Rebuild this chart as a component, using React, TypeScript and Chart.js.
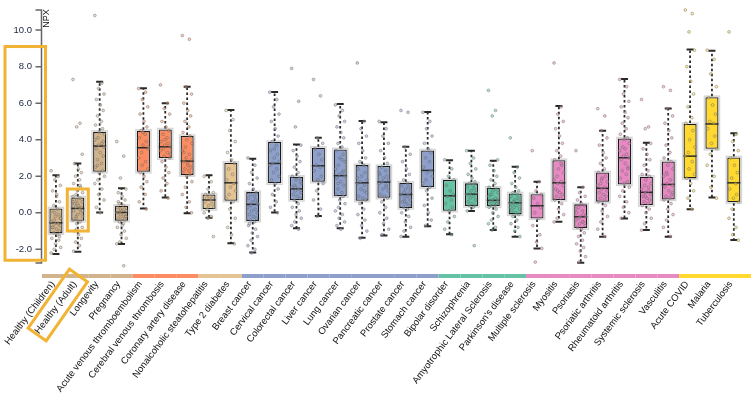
import React, { useEffect, useRef } from "react";
import { Chart, registerables } from "chart.js";

Chart.register(...registerables);

const categories = [
  "Healthy (Children)", "Healthy (Adult)", "Longevity", "Pregnancy",
  "Acute venous thromboembolism", "Cerebral venous thrombosis", "Coronary artery disease",
  "Nonalcoholic steatohepatitis", "Type 2 diabetes",
  "Breast cancer", "Cervical cancer", "Colorectal cancer", "Liver cancer", "Lung cancer",
  "Ovarian cancer", "Pancreatic cancer", "Prostate cancer", "Stomach cancer",
  "Bipolar disorder", "Schizophrenia", "Amyotrophic Lateral Sclerosis", "Parkinson's disease",
  "Multiple sclerosis", "Myositis", "Psoriasis", "Psoriatic arthritis", "Rheumatoid arthritis",
  "Systemic sclerosis", "Vasculitis",
  "Acute COVID", "Malaria", "Tuberculosis",
];

const groupOf = [0, 0, 0, 0, 1, 1, 1, 2, 2, 3, 3, 3, 3, 3, 3, 3, 3, 3, 4, 4, 4, 4, 5, 5, 5, 5, 5, 5, 5, 6, 6, 6];
const groupColors = ["#D2B48C", "#FC8D62", "#E5C494", "#8DA0CB", "#66C2A5", "#E78AC3", "#FFD92F"];

const whiskerLow = [-2.26, -2.13, 0.02, -1.71, 0.24, 0.84, -0.03, -0.27, -1.67, -2.17, 0.02, -0.85, -0.18, -0.85, -1.37, -1.24, -1.31, -0.74, -1.18, 0.09, -0.95, -1.31, -1.95, -0.49, -2.74, -1.31, -0.31, -0.95, -1.31, 0.19, 0.84, -1.49];
const q1 = [-1.13, -0.44, 2.24, -0.44, 2.24, 2.98, 2.06, 0.2, 0.66, -0.45, 1.61, 0.7, 1.7, 0.91, 0.66, 0.82, 0.26, 1.39, 0.11, 0.37, 0.35, -0.09, -0.31, 0.7, -0.85, 0.6, 1.55, 0.42, 0.73, 1.88, 3.5, 0.57];
const median = [-0.55, 0.24, 3.65, 0.02, 3.56, 3.61, 2.83, 0.7, 1.64, 0.46, 2.7, 1.31, 2.57, 2.03, 1.64, 1.68, 1.0, 2.32, 0.93, 1.02, 0.68, 0.55, 0.38, 1.64, -0.22, 1.34, 3.01, 1.12, 1.55, 3.1, 4.86, 1.64];
const q3 = [0.24, 0.84, 4.43, 0.38, 4.49, 4.56, 4.2, 1.0, 2.74, 1.13, 3.87, 1.97, 3.56, 3.47, 2.61, 2.56, 1.64, 3.41, 1.79, 1.61, 1.37, 1.06, 1.02, 2.88, 0.46, 2.21, 4.07, 1.97, 2.81, 4.86, 6.33, 3.03];
const whiskerHigh = [2.06, 2.7, 7.17, 1.34, 6.81, 5.99, 6.9, 2.06, 5.62, 2.96, 6.61, 3.74, 4.1, 5.95, 5.02, 4.96, 3.61, 5.51, 2.88, 3.39, 2.85, 2.52, 1.7, 5.84, 1.39, 4.49, 7.32, 3.83, 5.71, 8.94, 8.87, 4.35];

const yTicks = [-2, 0, 2, 4, 6, 8, 10];
const yMin = -2.75;
const yMax = 11.1;

const ptsHealthyChildren = [2.3, 2.0, 1.8, 1.5, 1.2, 0.9, 0.6, 0.4, 0.2, 0.1, -0.1, -0.2, -0.3, -0.4, -0.5, -0.6, -0.6, -0.7, -0.8, -0.9, -1.0, -1.1, -1.2, -1.4, -1.5, -1.7, -1.9, -2.0, -2.2, -3.3, 0.0, -0.3, -0.8, 1.0, -1.3];
const ptsHealthyAdult = [7.3, 4.9, 4.7, 3.2, 2.7, 2.4, 2.2, 2.0, 1.8, 1.6, 1.4, 1.2, 1.1, 1.0, 0.9, 0.8, 0.7, 0.6, 0.5, 0.4, 0.3, 0.3, 0.2, 0.1, 0.0, -0.1, -0.2, -0.3, -0.4, -0.5, -0.6, -0.8, -1.0, -1.2, -1.4, -1.6, -1.8, -2.1, -3.2, 0.5, 0.1, -0.2, 0.6, 1.5, -0.9];
const ptsLongevity = [10.8, 7.1, 6.8, 6.5, 6.2, 5.9, 5.6, 5.3, 5.0, 4.8, 4.6, 4.4, 4.3, 4.1, 4.0, 3.8, 3.7, 3.6, 3.5, 3.3, 3.1, 2.9, 2.7, 2.5, 2.3, 2.2, 2.0, 1.8, 1.6, 1.3, 1.0, 0.7, 0.3, 0.0, 3.9, 2.6];
const ptsPregnancy = [3.9, 3.1, 1.9, 1.3, 1.1, 0.9, 0.7, 0.5, 0.4, 0.3, 0.2, 0.1, 0.1, 0.0, 0.0, -0.1, -0.1, -0.2, -0.3, -0.3, -0.4, -0.5, -0.6, -0.8, -1.0, -1.2, -1.4, -1.6, -1.7, -2.9, 0.2, -0.2, 0.6, -0.7];
const ptsAVT = [6.8, 6.6, 6.2, 5.8, 5.4, 5.0, 4.7, 4.5, 4.3, 4.1, 3.9, 3.7, 3.5, 3.3, 3.0, 2.8, 2.6, 2.4, 2.2, 2.0, 1.7, 1.4, 1.0, 0.6, 0.2, 4.4, 3.6];
const ptsCVT = [7.0, 6.0, 5.7, 5.4, 5.0, 4.7, 4.5, 4.3, 4.1, 3.9, 3.8, 3.7, 3.6, 3.5, 3.4, 3.3, 3.1, 3.0, 2.8, 2.5, 2.2, 1.9, 1.6, 1.2, 0.8, 4.0, 3.2];
const ptsCAD = [9.7, 9.5, 6.9, 6.5, 6.0, 5.6, 5.3, 5.0, 4.7, 4.4, 4.2, 4.0, 3.8, 3.6, 3.4, 3.2, 3.0, 2.9, 2.8, 2.7, 2.5, 2.4, 2.3, 2.2, 2.1, 2.0, 1.7, 1.4, 1.0, 0.6, 0.3, 0.0, 3.3, 2.6];
const ptsNASH = [2.0, 1.7, 1.3, 1.1, 1.0, 0.9, 0.8, 0.8, 0.7, 0.6, 0.5, 0.4, 0.3, 0.2, 0.0, -0.2, -0.3, -1.3];
const ptsT2D = [5.6, 5.1, 4.5, 3.9, 3.3, 2.9, 2.7, 2.4, 2.1, 1.8, 1.6, 1.4, 1.2, 1.0, 0.8, 0.6, 0.2, -0.3, -0.8, -1.2, -1.7];
const ptsBreast = [3.0, 2.6, 2.2, 1.9, 1.6, 1.3, 1.1, 1.0, 0.9, 0.8, 0.7, 0.6, 0.5, 0.4, 0.3, 0.2, 0.1, 0.0, -0.1, -0.2, -0.3, -0.4, -0.5, -0.7, -0.9, -1.1, -1.3, -1.5, -1.8, -2.0, -2.2, 0.5, -0.6];
const ptsCervical = [6.6, 6.2, 5.8, 5.4, 5.0, 4.6, 4.2, 3.9, 3.7, 3.4, 3.2, 3.0, 2.8, 2.7, 2.6, 2.4, 2.2, 2.0, 1.8, 1.6, 1.3, 1.0, 0.6, 0.3, 0.0, 3.5];
const ptsColorectal = [7.9, 6.1, 4.7, 3.7, 3.4, 3.1, 2.8, 2.5, 2.2, 2.0, 1.9, 1.8, 1.6, 1.5, 1.4, 1.3, 1.2, 1.1, 1.0, 0.9, 0.8, 0.7, 0.5, 0.3, 0.1, -0.1, -0.3, -0.5, -0.7, -0.9, 1.4, 1.7];
const ptsLiver = [7.3, 6.4, 4.1, 3.8, 3.5, 3.2, 2.9, 2.6, 2.5, 2.3, 2.0, 1.8, 1.6, 1.2, 0.7, 0.2, -0.2];
const ptsLung = [5.9, 5.6, 5.3, 5.0, 4.7, 4.4, 4.1, 3.8, 3.6, 3.4, 3.2, 3.0, 2.8, 2.6, 2.4, 2.2, 2.1, 2.0, 1.9, 1.7, 1.5, 1.3, 1.1, 1.0, 0.9, 0.7, 0.5, 0.3, 0.1, -0.1, -0.3, -0.5, -0.7, -0.9, 2.3, 1.6, 2.9];
const ptsOvarian = [8.2, 5.0, 4.6, 4.2, 3.8, 3.4, 3.0, 2.8, 2.6, 2.4, 2.2, 2.0, 1.8, 1.7, 1.6, 1.5, 1.3, 1.1, 0.9, 0.8, 0.7, 0.5, 0.2, -0.1, -0.4, -0.7, -1.0, -1.4, 1.9, 1.2];
const ptsPancreatic = [5.0, 4.6, 4.2, 3.8, 3.4, 3.0, 2.7, 2.5, 2.3, 2.1, 2.0, 1.9, 1.8, 1.7, 1.6, 1.5, 1.3, 1.2, 1.0, 0.9, 0.8, 0.6, 0.3, 0.0, -0.3, -0.6, -0.9, -1.2, 2.2, 1.4];
const ptsProstate = [5.6, 5.5, 3.6, 3.2, 2.8, 2.4, 2.1, 1.8, 1.6, 1.5, 1.4, 1.3, 1.2, 1.1, 1.0, 0.9, 0.8, 0.7, 0.6, 0.5, 0.4, 0.3, 0.2, 0.0, -0.2, -0.5, -0.8, -1.0, -1.3, 1.0, 0.6];
const ptsStomach = [5.5, 5.0, 4.6, 4.2, 3.8, 3.5, 3.3, 3.0, 2.8, 2.5, 2.3, 2.2, 2.0, 1.8, 1.6, 1.4, 1.2, 0.8, 0.4, 0.0, -0.4, -0.7];
const ptsBipolar = [2.9, 2.4, 2.0, 1.8, 1.5, 1.2, 1.0, 0.9, 0.7, 0.5, 0.3, 0.1, -0.2, -0.5, -0.9, -1.2];
const ptsSchizophrenia = [3.4, 3.0, 2.7, 2.4, 2.1, 1.9, 1.7, 1.6, 1.5, 1.4, 1.3, 1.2, 1.1, 1.0, 1.0, 0.9, 0.8, 0.7, 0.6, 0.5, 0.4, 0.4, 0.3, 0.1, -1.8];
const ptsALS = [6.7, 5.6, 5.3, 2.9, 2.6, 2.3, 2.0, 1.8, 1.6, 1.4, 1.3, 1.2, 1.1, 1.0, 0.9, 0.8, 0.7, 0.7, 0.6, 0.5, 0.5, 0.4, 0.4, 0.3, 0.2, 0.0, -0.2, -0.4, -0.6, -0.8, -0.95, 0.6, 1.0];
const ptsParkinson = [4.1, 2.5, 2.2, 1.9, 1.6, 1.4, 1.2, 1.1, 1.0, 0.9, 0.8, 0.7, 0.6, 0.5, 0.5, 0.4, 0.3, 0.2, 0.1, 0.0, -0.1, -0.2, -0.4, -0.6, -0.8, -1.0, -1.3, 0.6, 0.3];
const ptsMS = [3.4, 1.7, 1.2, 1.0, 0.8, 0.5, 0.3, 0.0, -0.3, -0.7, -1.2, -1.6, -1.95, -2.7];
const ptsMyositis = [8.2, 5.8, 5.4, 5.0, 4.6, 4.2, 3.8, 3.4, 3.1, 2.9, 2.6, 2.4, 2.2, 2.0, 1.8, 1.7, 1.6, 1.5, 1.3, 1.1, 1.0, 0.9, 0.8, 0.7, 0.5, 0.2, -0.1, -0.3, -0.5, 2.7, 1.2];
const ptsPsoriasis = [3.4, 1.4, 1.1, 0.9, 0.7, 0.5, 0.4, 0.3, 0.1, 0.0, -0.1, -0.2, -0.2, -0.3, -0.4, -0.5, -0.6, -0.7, -0.8, -0.9, -1.1, -1.3, -1.5, -1.7, -1.9, -2.1, -2.4, -2.7, 0.2, -0.5];
const ptsPsA = [5.7, 5.3, 4.5, 4.1, 3.7, 3.3, 3.0, 2.7, 2.4, 2.2, 2.0, 1.9, 1.7, 1.6, 1.5, 1.4, 1.3, 1.2, 1.1, 1.0, 0.9, 0.8, 0.7, 0.6, 0.4, 0.1, -0.2, -0.5, -0.9, -1.3, 1.8];
const ptsRA = [7.3, 6.9, 6.5, 6.1, 5.8, 5.5, 5.2, 4.9, 4.6, 4.3, 4.1, 4.0, 3.8, 3.6, 3.4, 3.2, 3.1, 3.0, 2.9, 2.7, 2.5, 2.3, 2.1, 1.9, 1.7, 1.6, 1.4, 1.2, 0.9, 0.6, 0.3, 0.0, -0.3, 3.5, 2.4];
const ptsSSc = [6.2, 4.7, 4.6, 3.8, 3.5, 3.2, 2.9, 2.6, 2.3, 2.1, 2.0, 1.8, 1.6, 1.5, 1.3, 1.2, 1.1, 1.0, 0.9, 0.8, 0.7, 0.6, 0.5, 0.4, 0.2, 0.0, -0.3, -0.6, -0.95, 1.4, 0.9];
const ptsVasculitis = [6.9, 6.7, 5.7, 5.3, 4.9, 4.5, 4.1, 3.7, 3.3, 3.0, 2.8, 2.6, 2.4, 2.2, 2.0, 1.8, 1.6, 1.5, 1.4, 1.2, 1.0, 0.9, 0.8, 0.7, 0.5, 0.2, -0.1, -0.4, -0.8, -1.3, 2.1, 1.1];
const ptsCOVID = [11.1, 10.9, 9.9, 8.9, 8.0, 7.2, 6.5, 5.8, 5.2, 4.9, 4.5, 4.0, 3.6, 3.3, 3.1, 2.8, 2.4, 2.1, 1.9, 1.6, 1.2, 0.8, 0.2];
const ptsMalaria = [8.9, 8.4, 7.6, 6.9, 6.3, 5.9, 5.4, 5.0, 4.9, 4.6, 4.2, 3.8, 3.5, 3.2, 2.6, 2.0, 1.4, 0.8];
const ptsTB = [9.9, 4.3, 3.9, 3.4, 3.0, 2.6, 2.2, 1.9, 1.6, 1.3, 1.0, 0.8, 0.6, 0.2, -0.3, -0.8, -1.2, -1.5];

const pointLists = [
  ptsHealthyChildren, ptsHealthyAdult, ptsLongevity, ptsPregnancy, ptsAVT, ptsCVT, ptsCAD,
  ptsNASH, ptsT2D, ptsBreast, ptsCervical, ptsColorectal, ptsLiver, ptsLung, ptsOvarian,
  ptsPancreatic, ptsProstate, ptsStomach, ptsBipolar, ptsSchizophrenia, ptsALS, ptsParkinson,
  ptsMS, ptsMyositis, ptsPsoriasis, ptsPsA, ptsRA, ptsSSc, ptsVasculitis, ptsCOVID, ptsMalaria, ptsTB,
];

// horizontal jitter pattern (layout only, in category units)
const jitterPattern = [-0.22, 0.1, -0.05, 0.2, -0.15, 0.03, 0.16, -0.1, 0.08, -0.19, 0.13, -0.02, 0.22, -0.08];

const FONT = "'Liberation Sans', Arial, sans-serif";
const ANNOT = "#F2B233";

function rgba(hex: string, a: number) {
  const n = parseInt(hex.slice(1), 16);
  return `rgba(${(n >> 16) & 255},${(n >> 8) & 255},${n & 255},${a})`;
}

const extrasPlugin = {
  id: "boxExtras",
  beforeDatasetDraw(chart: any, args: any) {
    if (args.index !== 0) return;
    const ctx = chart.ctx;
    const meta = chart.getDatasetMeta(0);
    ctx.save();
    ctx.strokeStyle = "rgba(0,0,0,0.16)";
    ctx.lineWidth = 1.5;
    meta.data.forEach((bar: any) => {
      const p = bar.getProps(["x", "y", "base", "width"], true);
      const top = Math.min(p.y, p.base);
      ctx.strokeRect(p.x - p.width / 2 - 1, top - 1, p.width + 2, Math.abs(p.base - p.y) + 2);
    });
    ctx.restore();
  },
  afterDatasetDraw(chart: any, args: any) {
    if (args.index !== 0) return;
    const ctx = chart.ctx;
    const xs = chart.scales.x;
    const ys = chart.scales.y;
    const meta = chart.getDatasetMeta(0);
    ctx.save();
    categories.forEach((_, i) => {
      const x = xs.getPixelForValue(i);
      const w = meta.data[i].getProps(["width"], true).width;
      const yH = ys.getPixelForValue(whiskerHigh[i]);
      const yL = ys.getPixelForValue(whiskerLow[i]);
      const yQ3 = ys.getPixelForValue(q3[i]);
      const yQ1 = ys.getPixelForValue(q1[i]);
      ctx.strokeStyle = "#2a2a2a";
      ctx.lineWidth = 1.8;
      ctx.setLineDash([2.5, 2.5]);
      ctx.beginPath();
      ctx.moveTo(x, yQ3 - 1);
      ctx.lineTo(x, yH);
      ctx.moveTo(x, yQ1 + 1);
      ctx.lineTo(x, yL);
      ctx.stroke();
      ctx.setLineDash([]);
      ctx.lineWidth = 2;
      ctx.beginPath();
      ctx.moveTo(x - 3.5, yH);
      ctx.lineTo(x + 3.5, yH);
      ctx.moveTo(x - 3.5, yL);
      ctx.lineTo(x + 3.5, yL);
      ctx.stroke();
      const yM = ys.getPixelForValue(median[i]);
      ctx.lineWidth = 1.5;
      ctx.beginPath();
      ctx.moveTo(x - w / 2, yM);
      ctx.lineTo(x + w / 2, yM);
      ctx.stroke();
    });
    ctx.restore();
  },
  afterDraw(chart: any) {
    const ctx = chart.ctx;
    const xs = chart.scales.x;
    const ys = chart.scales.y;
    const area = chart.chartArea;
    const half = (xs.getPixelForValue(1) - xs.getPixelForValue(0)) / 2;
    ctx.save();
    // group colour band
    const bandY = area.bottom + 11;
    categories.forEach((_, i) => {
      const x = xs.getPixelForValue(i);
      ctx.fillStyle = groupColors[groupOf[i]];
      const left = i === 0 ? area.left - 3 : x - half;
      const right = i === categories.length - 1 ? chart.width : x + half;
      ctx.fillRect(left, bandY, right - left, 4);
    });
    // y axis line + ticks
    const ax = area.left - 3.5;
    const yTop = ys.getPixelForValue(yMax);
    const yBot = ys.getPixelForValue(yMin);
    ctx.strokeStyle = "#666";
    ctx.lineWidth = 1.5;
    ctx.beginPath();
    ctx.moveTo(ax - 6, yTop);
    ctx.lineTo(ax, yTop);
    ctx.lineTo(ax, yBot);
    ctx.lineTo(ax - 6, yBot);
    yTicks.forEach((t) => {
      const y = ys.getPixelForValue(t);
      ctx.moveTo(ax - 6, y);
      ctx.lineTo(ax, y);
    });
    ctx.stroke();
    // NPX label
    ctx.save();
    ctx.translate(ax + 5, yTop + 8.5);
    ctx.rotate(-Math.PI / 2);
    ctx.fillStyle = "#111";
    ctx.font = `9px ${FONT}`;
    ctx.textAlign = "center";
    ctx.textBaseline = "middle";
    ctx.fillText("NPX", 0, 0);
    ctx.restore();
    // annotations
    ctx.strokeStyle = ANNOT;
    ctx.lineWidth = 3;
    const rTop = ys.getPixelForValue(9.1);
    const rBot = ys.getPixelForValue(-2.6);
    ctx.strokeRect(5, rTop, ax + 4 - 5, rBot - rTop);
    const xa = xs.getPixelForValue(1);
    const hTop = ys.getPixelForValue(1.3);
    const hBot = ys.getPixelForValue(-1.0);
    ctx.strokeRect(xa - 10.5, hTop, 21, hBot - hTop);
    ctx.save();
    ctx.translate(xa - 20, area.bottom + 42);
    ctx.rotate((-55 * Math.PI) / 180);
    ctx.strokeRect(-36, -11, 72, 22);
    ctx.restore();
    ctx.restore();
  },
};

export default function App() {
  const ref = useRef<HTMLCanvasElement | null>(null);
  useEffect(() => {
    document.body.style.margin = "0";
    const canvas = ref.current;
    if (!canvas) return;
    const scatterData: any[] = [];
    const scatterFill: string[] = [];
    pointLists.forEach((list, i) => {
      list.forEach((v, j) => {
        scatterData.push({ x: i + jitterPattern[j % jitterPattern.length], y: v });
        scatterFill.push(rgba(groupColors[groupOf[i]], 0.45));
      });
    });
    const chart = new Chart(canvas, {
      type: "bar",
      data: {
        labels: categories,
        datasets: [
          {
            type: "bar",
            data: q1.map((v, i) => [v, q3[i]]) as any,
            backgroundColor: categories.map((_, i) => groupColors[groupOf[i]]),
            borderColor: "#1a1a1a",
            borderWidth: 1.3,
            borderSkipped: false,
            barPercentage: 0.6,
            categoryPercentage: 1,
            grouped: false,
            xAxisID: "x",
            yAxisID: "y",
            order: 2,
          } as any,
          {
            type: "scatter",
            data: scatterData,
            xAxisID: "xj",
            yAxisID: "y",
            pointRadius: 1.4,
            pointBackgroundColor: scatterFill,
            pointBorderColor: "rgba(95,95,95,0.6)",
            pointBorderWidth: 0.7,
            showLine: false,
            clip: false,
            order: 1,
          } as any,
        ],
      },
      options: {
        responsive: false,
        animation: false,
        devicePixelRatio: 1,
        layout: { padding: { top: 10, right: 2, left: 0, bottom: 0 } },
        plugins: { legend: { display: false }, tooltip: { enabled: false } },
        scales: {
          x: {
            type: "category",
            offset: true,
            grid: { display: false },
            border: { display: false },
            ticks: {
              autoSkip: false,
              minRotation: 53,
              maxRotation: 53,
              padding: 8,
              labelOffset: -3,
              color: "#111",
              font: { family: FONT, size: 9.5 },
            },
            afterFit: (s: any) => {
              s.height = 134;
            },
          },
          xj: {
            type: "linear",
            display: false,
            offset: false,
            grace: 0,
            min: -0.5,
            max: categories.length - 0.5,
          },
          y: {
            type: "linear",
            min: yMin,
            max: yMax,
            grid: {
              display: true,
              drawOnChartArea: false,
              drawTicks: true,
              tickLength: 13,
              color: "rgba(0,0,0,0)",
            },
            border: { display: false },
            afterBuildTicks: (s: any) => {
              s.ticks = yTicks.map((v) => ({ value: v }));
            },
            ticks: {
              padding: 0,
              color: "#1b2440",
              font: { family: FONT, size: 9.5 },
              callback: (v: any) => Number(v).toFixed(1),
            },
            afterFit: (s: any) => {
              s.width = 45;
            },
          },
        },
      } as any,
      plugins: [extrasPlugin],
    });
    return () => chart.destroy();
  }, []);
  return (
    <div style={{ width: 751, height: 397 }}>
      <canvas ref={ref} width={751} height={397} style={{ display: "block" }} />
    </div>
  );
}
